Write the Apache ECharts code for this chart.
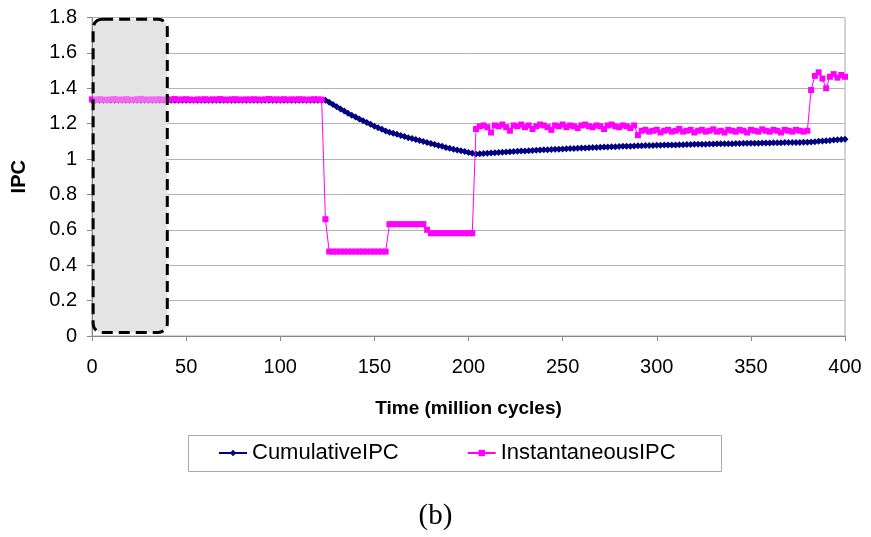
<!DOCTYPE html>
<html>
<head>
<meta charset="utf-8">
<title>IPC over time</title>
<script src="https://cdn.jsdelivr.net/npm/echarts@6/dist/echarts.min.js"></script>
<style>
  html, body { margin: 0; padding: 0; background: #ffffff; }
  #chart { width: 871px; height: 537px; }
</style>
</head>
<body>
<div id="chart"></div>
<script>
// Sampling interval of both IPC traces, in million cycles
const tStep = 2;

// Cumulative IPC, one value per sample (10 samples per row, rows start at t = 0, 20, 40, ...)
const cumulativeIPC = [
  1.333, 1.333, 1.333, 1.333, 1.333, 1.333, 1.333, 1.333, 1.333, 1.333,
  1.333, 1.333, 1.333, 1.333, 1.333, 1.333, 1.333, 1.333, 1.333, 1.333,
  1.333, 1.333, 1.333, 1.333, 1.333, 1.333, 1.333, 1.333, 1.333, 1.333,
  1.333, 1.333, 1.333, 1.333, 1.333, 1.333, 1.333, 1.333, 1.333, 1.333,
  1.333, 1.333, 1.333, 1.333, 1.333, 1.333, 1.333, 1.333, 1.333, 1.333,
  1.333, 1.333, 1.333, 1.333, 1.333, 1.333, 1.333, 1.333, 1.333, 1.333,
  1.333, 1.333, 1.333, 1.321, 1.308, 1.295, 1.283, 1.271, 1.259, 1.248,
  1.237, 1.226, 1.216, 1.206, 1.196, 1.186, 1.177, 1.168, 1.159, 1.152,
  1.146, 1.140, 1.133, 1.127, 1.121, 1.116, 1.110, 1.105, 1.099, 1.094,
  1.088, 1.082, 1.077, 1.072, 1.066, 1.061, 1.056, 1.051, 1.047, 1.042,
  1.037, 1.033, 1.028, 1.030, 1.031, 1.033, 1.034, 1.036, 1.037, 1.039,
  1.040, 1.041, 1.042, 1.044, 1.045, 1.046, 1.047, 1.049, 1.050, 1.051,
  1.052, 1.053, 1.054, 1.055, 1.056, 1.057, 1.058, 1.059, 1.060, 1.061,
  1.062, 1.063, 1.064, 1.065, 1.066, 1.067, 1.068, 1.068, 1.069, 1.070,
  1.071, 1.072, 1.073, 1.073, 1.074, 1.075, 1.075, 1.076, 1.076, 1.077,
  1.078, 1.078, 1.079, 1.079, 1.080, 1.080, 1.081, 1.081, 1.082, 1.082,
  1.083, 1.083, 1.084, 1.084, 1.085, 1.085, 1.086, 1.086, 1.086, 1.087,
  1.087, 1.088, 1.088, 1.089, 1.089, 1.089, 1.090, 1.090, 1.091, 1.091,
  1.091, 1.092, 1.092, 1.092, 1.093, 1.093, 1.094, 1.094, 1.094, 1.095,
  1.095, 1.096, 1.098, 1.100, 1.102, 1.103, 1.105, 1.107, 1.109, 1.110,
  1.112
];

// Instantaneous IPC, same sampling
const instantaneousIPC = [
  1.337, 1.335, 1.338, 1.336, 1.334, 1.337, 1.339, 1.335, 1.336, 1.338,
  1.336, 1.334, 1.338, 1.340, 1.336, 1.335, 1.337, 1.336, 1.338, 1.335,
  1.337, 1.336, 1.339, 1.335, 1.337, 1.338, 1.336, 1.334, 1.337, 1.336,
  1.338, 1.335, 1.337, 1.336, 1.339, 1.336, 1.335, 1.337, 1.338, 1.336,
  1.335, 1.337, 1.336, 1.338, 1.336, 1.335, 1.337, 1.339, 1.336, 1.337,
  1.336, 1.338, 1.335, 1.337, 1.336, 1.338, 1.337, 1.335, 1.336, 1.338,
  1.337, 1.336, 0.660, 0.477, 0.477, 0.477, 0.477, 0.477, 0.477, 0.477,
  0.477, 0.477, 0.477, 0.477, 0.477, 0.477, 0.477, 0.477, 0.477, 0.632,
  0.632, 0.632, 0.632, 0.632, 0.632, 0.632, 0.632, 0.632, 0.632, 0.600,
  0.581, 0.581, 0.581, 0.581, 0.581, 0.581, 0.581, 0.581, 0.581, 0.581,
  0.581, 0.581, 1.170, 1.185, 1.190, 1.180, 1.150, 1.190, 1.185, 1.195,
  1.180, 1.160, 1.190, 1.185, 1.195, 1.180, 1.190, 1.170, 1.185, 1.195,
  1.190, 1.180, 1.165, 1.190, 1.185, 1.195, 1.180, 1.190, 1.185, 1.175,
  1.190, 1.195, 1.185, 1.180, 1.190, 1.185, 1.170, 1.190, 1.195, 1.185,
  1.180, 1.190, 1.185, 1.175, 1.190, 1.135, 1.160, 1.165, 1.155, 1.160,
  1.165, 1.150, 1.160, 1.165, 1.155, 1.160, 1.170, 1.155, 1.160, 1.165,
  1.150, 1.160, 1.165, 1.155, 1.160, 1.168, 1.155, 1.160, 1.150, 1.165,
  1.160, 1.155, 1.165, 1.160, 1.150, 1.165, 1.160, 1.155, 1.168, 1.160,
  1.155, 1.165, 1.160, 1.150, 1.165, 1.160, 1.155, 1.165, 1.160, 1.155,
  1.160, 1.390, 1.470, 1.490, 1.455, 1.400, 1.465, 1.480, 1.460, 1.475,
  1.465
];

// Axis ranges
const timeMin = 0, timeMax = 400, timeTick = 50;
const ipcMin = 0, ipcMax = 1.8, ipcTick = 0.2;

// Highlighted warm-up window (time and IPC extents)
const warmupStart = 0.6, warmupEnd = 40;
const warmupLow = 0.02, warmupHigh = 1.79;

const FONT = "'Liberation Sans', Arial, sans-serif";

const chart = echarts.init(document.getElementById('chart'), null, { renderer: 'canvas' });

const cumulativeData = cumulativeIPC.map((v, i) => [i * tStep, v]);
const instantData = instantaneousIPC.map((v, i) => [i * tStep, v]);

chart.setOption({
  animation: false,
  backgroundColor: '#ffffff',
  title: {
    text: '(b)',
    left: 'center',
    top: 497,
    textStyle: { fontFamily: "'Liberation Serif', 'Times New Roman', serif", fontSize: 29, fontWeight: 'normal', color: '#000' }
  },
  grid: {
    left: 92, right: 26, top: 17.5, bottom: 201,
    show: true, borderColor: '#a8a8a8', borderWidth: 1, backgroundColor: 'transparent'
  },
  legend: {
    left: 218, top: 442, padding: 0,
    itemWidth: 28, itemHeight: 8, itemGap: 68,
    textStyle: { fontFamily: FONT, fontSize: 22, color: '#000' },
    data: ['CumulativeIPC', 'InstantaneousIPC']
  },
  xAxis: {
    type: 'value', min: timeMin, max: timeMax, interval: timeTick,
    name: 'Time (million cycles)', nameLocation: 'middle', nameGap: 63,
    nameTextStyle: { fontFamily: FONT, fontSize: 19, fontWeight: 'bold', color: '#000' },
    axisLine: { show: true, lineStyle: { color: '#888888', width: 1 } },
    axisTick: { show: true, length: 5, lineStyle: { color: '#888888' } },
    axisLabel: { fontFamily: FONT, fontSize: 20, color: '#000', margin: 21 },
    splitLine: { show: false }
  },
  yAxis: {
    type: 'value', min: ipcMin, max: ipcMax, interval: ipcTick,
    name: 'IPC', nameLocation: 'middle', nameGap: 63, nameRotate: 90,
    nameTextStyle: { fontFamily: FONT, fontSize: 20, fontWeight: 'bold', color: '#000' },
    axisLine: { show: true, lineStyle: { color: '#888888', width: 1 } },
    axisTick: { show: true, length: 5, lineStyle: { color: '#888888' } },
    axisLabel: { fontFamily: FONT, fontSize: 20, color: '#000', margin: 15 },
    splitLine: { show: true, lineStyle: { color: '#b4b4b4', width: 1 } }
  },
  series: [
    {
      name: 'CumulativeIPC',
      type: 'line',
      data: cumulativeData,
      symbol: 'diamond', symbolSize: 7, showSymbol: true,
      itemStyle: { color: '#000080' },
      lineStyle: { color: '#000080', width: 3 },
      emphasis: { disabled: true },
      z: 2
    },
    {
      name: 'InstantaneousIPC',
      type: 'line',
      data: instantData,
      symbol: 'rect', symbolSize: 6, showSymbol: true,
      itemStyle: { color: '#ff00ff' },
      lineStyle: { color: '#ff00ff', width: 1 },
      emphasis: { disabled: true },
      z: 3
    }
  ]
});

// Warm-up window: solid grey behind the traces plus a translucent veil and dashed frame on top
function drawWarmup() {
  const p1 = chart.convertToPixel({ gridIndex: 0 }, [warmupStart, warmupHigh]);
  const p2 = chart.convertToPixel({ gridIndex: 0 }, [warmupEnd, warmupLow]);
  const shape = { x: p1[0], y: p1[1], width: p2[0] - p1[0], height: p2[1] - p1[1], r: 9 };
  const lp1 = [188, 435];
  chart.setOption({
    graphic: [
      { type: 'rect', id: 'warmBack', z: 1, silent: true, shape: shape, style: { fill: '#e4e4e4', stroke: null } },
      { type: 'rect', id: 'warmVeil', z: 100, silent: true, shape: shape,
        style: { fill: 'rgba(228,228,228,0.45)', stroke: '#000000', lineWidth: 3, lineDash: [11, 6] } },
      { type: 'rect', id: 'legendFrame', z: 0, silent: true,
        shape: { x: lp1[0] + 0.5, y: lp1[1] + 0.5, width: 533, height: 36 },
        style: { fill: null, stroke: '#a8a8a8', lineWidth: 1 } }
    ]
  });
}
drawWarmup();
</script>
</body>
</html>
